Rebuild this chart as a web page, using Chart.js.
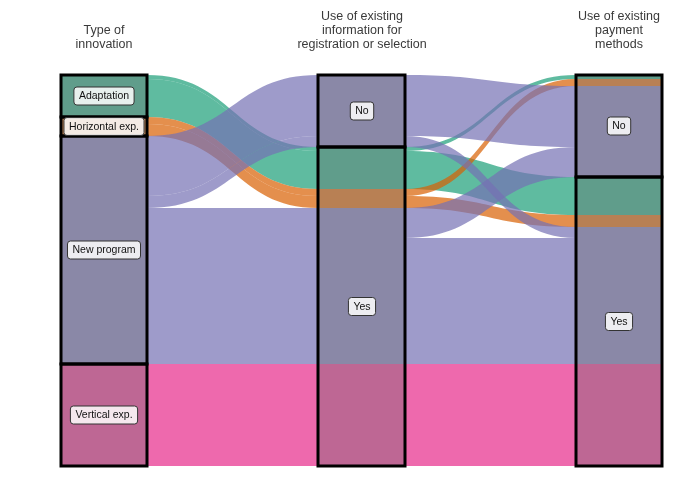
<!DOCTYPE html>
<html>
<head>
<meta charset="utf-8">
<script src="https://cdn.jsdelivr.net/npm/chart.js@4/dist/chart.umd.min.js"></script>
<style>
  html, body { margin: 0; padding: 0; background: #fff; }
  canvas { display: block; }
</style>
</head>
<body>
<canvas id="alluvialChart" width="700" height="487"></canvas>
<script>
// axis titles (one array of lines per axis)
const axisTitles = [
    ['Type of', 'innovation'],
    ['Use of existing', 'information for', 'registration or selection'],
    ['Use of existing', 'payment', 'methods']
];

// strata of each axis, top to bottom
const typeLevels = ['Adaptation', 'Horizontal exp.', 'New program', 'Vertical exp.'];
const infoLevels = ['No', 'Yes'];
const payLevels = ['No', 'Yes'];

// one entry per alluvium
const alluviumType = ['Adaptation', 'Adaptation', 'Horizontal exp.', 'Horizontal exp.', 'New program', 'New program', 'New program', 'New program', 'Vertical exp.'];
const alluviumInfo = ['Yes', 'Yes', 'Yes', 'Yes', 'No', 'No', 'Yes', 'Yes', 'Yes'];
const alluviumPay = ['No', 'Yes', 'No', 'Yes', 'No', 'Yes', 'No', 'Yes', 'Yes'];
const alluviumCount = [1, 10, 2, 3, 16, 3, 8, 33, 27];

const typeColors = {
    'Adaptation': 'rgba(27, 158, 119, 0.7)',
    'Horizontal exp.': 'rgba(217, 95, 2, 0.7)',
    'New program': 'rgba(117, 112, 179, 0.7)',
    'Vertical exp.': 'rgba(231, 41, 138, 0.7)'
};

const axes = [
    { levels: typeLevels, values: alluviumType },
    { levels: infoLevels, values: alluviumInfo },
    { levels: payLevels, values: alluviumPay }
];
const total = alluviumCount.reduce((a, b) => a + b, 0);
const halfWidth = 0.167;

// position of each alluvium (lode) inside each axis
function lodePositions() {
    const pos = axes.map(() => []);
    axes.forEach((axis, k) => {
        const order = [k].concat([0, 1, 2].filter(j => j !== k));
        const idx = alluviumCount.map((_, i) => i);
        idx.sort((a, b) => {
            for (const j of order) {
                const d = axes[j].levels.indexOf(axes[j].values[a]) - axes[j].levels.indexOf(axes[j].values[b]);
                if (d !== 0) return d;
            }
            return 0;
        });
        let cum = 0;
        idx.forEach(i => {
            pos[k][i] = [cum, cum + alluviumCount[i]];
            cum += alluviumCount[i];
        });
    });
    return pos;
}

const alluvialPlugin = {
    id: 'alluvial',
    afterDatasetsDraw(chart) {
        const ctx = chart.ctx;
        const xs = chart.scales.x;
        const ys = chart.scales.y;
        const pos = lodePositions();
        const X = v => Math.round(xs.getPixelForValue(v));
        const Y = v => Math.round(ys.getPixelForValue(v));

        // flows
        alluviumCount.forEach((count, i) => {
            ctx.beginPath();
            ctx.moveTo(X(1 - halfWidth), Y(pos[0][i][0]));
            for (let k = 0; k < 3; k++) {
                const xc = k + 1;
                if (k > 0) {
                    const xm = xc - 0.5;
                    ctx.bezierCurveTo(X(xm), Y(pos[k - 1][i][0]), X(xm), Y(pos[k][i][0]), X(xc - halfWidth), Y(pos[k][i][0]));
                }
                ctx.lineTo(X(xc + halfWidth), Y(pos[k][i][0]));
            }
            ctx.lineTo(X(3 + halfWidth), Y(pos[2][i][1]));
            for (let k = 2; k >= 0; k--) {
                const xc = k + 1;
                ctx.lineTo(X(xc - halfWidth), Y(pos[k][i][1]));
                if (k > 0) {
                    const xm = xc - 0.5;
                    ctx.bezierCurveTo(X(xm), Y(pos[k][i][1]), X(xm), Y(pos[k - 1][i][1]), X(xc - 1 + halfWidth), Y(pos[k - 1][i][1]));
                }
            }
            ctx.closePath();
            ctx.fillStyle = typeColors[alluviumType[i]];
            ctx.fill();
        });

        // strata
        const strata = [];
        axes.forEach((axis, k) => {
            let cum = 0;
            axis.levels.forEach(level => {
                const n = alluviumCount.reduce((s, c, i) => s + (axis.values[i] === level ? c : 0), 0);
                strata.push({ x: k + 1, y0: cum, y1: cum + n, label: level });
                cum += n;
            });
        });
        strata.forEach(s => {
            const l = X(s.x - halfWidth), r = X(s.x + halfWidth);
            const t = Y(s.y0), b = Y(s.y1);
            ctx.fillStyle = 'rgba(100, 100, 100, 0.34)';
            ctx.fillRect(l, t, r - l, b - t);
        });
        ctx.strokeStyle = '#000';
        ctx.lineWidth = 3;
        strata.forEach(s => {
            const l = X(s.x - halfWidth), r = X(s.x + halfWidth);
            ctx.strokeRect(l, Y(s.y0), r - l, Y(s.y1) - Y(s.y0));
        });

        // stratum labels
        ctx.font = '10.5px "Liberation Sans", Arial, sans-serif';
        ctx.textAlign = 'center';
        ctx.textBaseline = 'middle';
        strata.forEach(s => {
            const cx = X(s.x);
            const cy = (Y(s.y0) + Y(s.y1)) / 2;
            const w = ctx.measureText(s.label).width + 10;
            const h = 18;
            ctx.beginPath();
            ctx.roundRect(cx - w / 2, cy - h / 2, w, h, 3);
            ctx.fillStyle = 'rgba(255, 255, 255, 0.85)';
            ctx.fill();
            ctx.lineWidth = 1;
            ctx.strokeStyle = '#333';
            ctx.stroke();
            ctx.fillStyle = '#111';
            ctx.fillText(s.label, cx, cy + 0.5);
        });

        // axis titles
        ctx.font = '12.5px "Liberation Sans", Arial, sans-serif';
        ctx.fillStyle = '#3a3a3a';
        axisTitles.forEach((lines, k) => {
            const cx = X(k + 1);
            lines.forEach((line, j) => {
                const y = 45 - (lines.length - 1 - j) * 14;
                ctx.fillText(line, cx, y);
            });
        });
    }
};

new Chart(document.getElementById('alluvialChart').getContext('2d'), {
    type: 'scatter',
    data: { datasets: [] },
    options: {
        responsive: false,
        animation: false,
        layout: { padding: { top: 75, bottom: 21, left: 0, right: 0 } },
        plugins: { legend: { display: false }, tooltip: { enabled: false } },
        scales: {
            x: { type: 'linear', display: false, min: 1 - 104 / 257.5, max: 3 + 81 / 257.5 },
            y: { type: 'linear', display: false, min: 0, max: total, reverse: true }
        }
    },
    plugins: [alluvialPlugin]
});
</script>
</body>
</html>
